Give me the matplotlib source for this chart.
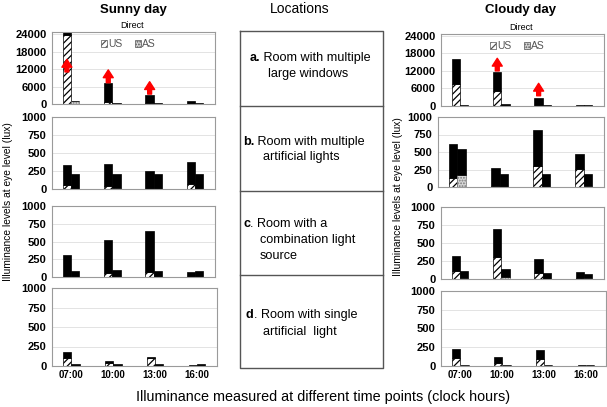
import matplotlib
matplotlib.use('Agg')
import matplotlib.pyplot as plt
from matplotlib.patches import Patch
import numpy as np

plt.rcParams['font.family'] = ['Liberation Sans', 'DejaVu Sans']
plt.rcParams['hatch.linewidth'] = 0.9

times = ['07:00', '10:00', '13:00', '16:00']

# ---- Sunny day (US = hatched lower part + black upper, AS = dotted lower + black upper)
sunny_a_us_total = [26000, 7200, 3000, 1000]
sunny_a_us_low = [23800, 700, 200, 0]
sunny_a_as_total = [1000, 500, 400, 200]
sunny_a_as_low = [1000, 0, 0, 0]

sunny_b_us_total = [335, 345, 245, 375]
sunny_b_us_low = [60, 45, 0, 70]
sunny_b_as_total = [205, 215, 210, 205]
sunny_b_as_low = [0, 10, 0, 0]

sunny_c_us_total = [313, 516, 645, 65]
sunny_c_us_low = [0, 50, 70, 0]
sunny_c_as_total = [83, 101, 88, 88]
sunny_c_as_low = [0, 0, 0, 0]

sunny_d_us_total = [184, 60, 115, 10]
sunny_d_us_low = [105, 35, 105, 0]
sunny_d_as_total = [20, 20, 20, 20]
sunny_d_as_low = [0, 0, 0, 0]

# ---- Cloudy day
cloudy_a_us_total = [16000, 11500, 2800, 500]
cloudy_a_us_low = [7500, 5000, 0, 0]
cloudy_a_as_total = [200, 700, 200, 300]
cloudy_a_as_low = [0, 0, 0, 0]

cloudy_b_us_total = [610, 270, 817, 470]
cloudy_b_us_low = [135, 20, 305, 260]
cloudy_b_as_total = [548, 190, 185, 190]
cloudy_b_as_low = [170, 0, 0, 20]

cloudy_c_us_total = [324, 700, 275, 95]
cloudy_c_us_low = [116, 300, 90, 20]
cloudy_c_as_total = [115, 135, 85, 75]
cloudy_c_as_low = [20, 25, 0, 15]

cloudy_d_us_total = [226, 115, 217, 10]
cloudy_d_us_low = [106, 40, 90, 0]
cloudy_d_as_total = [20, 20, 20, 20]
cloudy_d_as_low = [20, 20, 20, 20]

# red arrows (time index, base value, tip value)
sunny_arrow_idx = [0, 1, 2]
sunny_arrow_base = [11000, 7300, 3400]
sunny_arrow_tip = [15300, 11700, 7650]
cloudy_arrow_idx = [1, 2]
cloudy_arrow_base = [12000, 3500]
cloudy_arrow_tip = [16300, 7750]

ticks_a = [0, 6000, 12000, 18000, 24000]
ticks_bcd = [0, 250, 500, 750, 1000]

locations = [
    ('a.', ['Room with multiple', 'large windows']),
    ('b.', ['Room with multiple', 'artificial lights']),
    ('c', ['. Room with a', 'combination light', 'source']),
    ('d', ['. Room with single', 'artificial  light']),
]

W, H = 607, 407
fig = plt.figure(figsize=(W / 100, H / 100), dpi=100)


def px_axes(x0, y0, x1, y1):
    return fig.add_axes([x0 / W, 1 - y1 / H, (x1 - x0) / W, (y1 - y0) / H])


def draw(ax, us_total, us_low, as_total, as_low, ymax, yticks, show_x):
    x = np.arange(len(times))
    us_total = np.array(us_total, float)
    us_low = np.array(us_low, float)
    as_total = np.array(as_total, float)
    as_low = np.array(as_low, float)
    bw = 0.2
    ax.bar(x - bw / 2, us_low, bw, facecolor='white', edgecolor='black',
           hatch='/////', lw=0.5, zorder=2)
    ax.bar(x - bw / 2, us_total - us_low, bw, bottom=us_low, facecolor='black',
           edgecolor='black', lw=0.5, zorder=2)
    ax.bar(x + bw / 2, as_low, bw, facecolor='#d8d8d8', edgecolor='#7a7a7a',
           hatch='......', lw=0.5, zorder=2)
    ax.bar(x + bw / 2, as_total - as_low, bw, bottom=as_low, facecolor='black',
           edgecolor='black', lw=0.5, zorder=2)
    ax.set_xlim(-0.46, 3.48)
    ax.set_ylim(0, ymax)
    ax.set_yticks(yticks)
    ax.set_yticklabels([str(t) for t in yticks], fontsize=8, fontweight='bold')
    ax.yaxis.grid(True, color='#dedede', lw=0.6)
    ax.set_axisbelow(True)
    ax.tick_params(axis='y', length=0, pad=4)
    ax.set_xticks(x)
    if show_x:
        ax.set_xticklabels(times, fontsize=7, fontweight='bold')
        ax.tick_params(axis='x', length=0, pad=3)
    else:
        ax.set_xticklabels([])
        ax.tick_params(axis='x', length=0)
    for s in ax.spines.values():
        s.set_color('#9a9a9a')
        s.set_linewidth(0.8)


def arrows(ax, idx, base, tip):
    for i, b, t in zip(idx, base, tip):
        ax.annotate('', xy=(i - 0.1, t), xytext=(i - 0.1, b),
                    arrowprops=dict(arrowstyle='simple,head_width=0.9,head_length=0.7,tail_width=0.35',
                                    color='red', mutation_scale=8, shrinkA=0, shrinkB=0),
                    zorder=5)


def legend(ax):
    h = [Patch(facecolor='white', edgecolor='#555555', hatch='/////', lw=0.5, label='US'),
         Patch(facecolor='#d8d8d8', edgecolor='#555555', hatch='......', lw=0.5, label='AS')]
    ax.legend(handles=h, loc='upper center', bbox_to_anchor=(0.47, 0.96), ncol=2, frameon=False,
              fontsize=7.5, handlelength=0.6, handleheight=0.6, handletextpad=0.1,
              columnspacing=1.2, labelcolor='#555555', borderaxespad=0)


# left column (sunny)
L = (52, 215)
ax = px_axes(L[0], 32, L[1], 104)
draw(ax, sunny_a_us_total, sunny_a_us_low, sunny_a_as_total, sunny_a_as_low, 24700, ticks_a, False)
arrows(ax, sunny_arrow_idx, sunny_arrow_base, sunny_arrow_tip)
legend(ax)
ax = px_axes(L[0], 117, L[1], 189)
draw(ax, sunny_b_us_total, sunny_b_us_low, sunny_b_as_total, sunny_b_as_low, 1000, ticks_bcd, False)
ax = px_axes(L[0], 206, L[1], 277)
draw(ax, sunny_c_us_total, sunny_c_us_low, sunny_c_as_total, sunny_c_as_low, 1000, ticks_bcd, False)
ax = px_axes(L[0], 288, L[1] + 2, 366)
draw(ax, sunny_d_us_total, sunny_d_us_low, sunny_d_as_total, sunny_d_as_low, 1000, ticks_bcd, True)

# right column (cloudy)
R = (441, 604)
ax = px_axes(R[0], 34, R[1], 106)
draw(ax, cloudy_a_us_total, cloudy_a_us_low, cloudy_a_as_total, cloudy_a_as_low, 24600, ticks_a, False)
arrows(ax, cloudy_arrow_idx, cloudy_arrow_base, cloudy_arrow_tip)
legend(ax)
ax = px_axes(R[0] - 3, 117, R[1], 187)
draw(ax, cloudy_b_us_total, cloudy_b_us_low, cloudy_b_as_total, cloudy_b_as_low, 1000, ticks_bcd, False)
ax = px_axes(R[0], 207, R[1], 279)
draw(ax, cloudy_c_us_total, cloudy_c_us_low, cloudy_c_as_total, cloudy_c_as_low, 1000, ticks_bcd, False)
ax = px_axes(R[0], 291, R[1] + 2, 366)
draw(ax, cloudy_d_us_total, cloudy_d_us_low, cloudy_d_as_total, cloudy_d_as_low, 1000, ticks_bcd, True)

# overlay in pixel coordinates for titles, table and labels
ov = fig.add_axes([0, 0, 1, 1], zorder=-1)
ov.set_xlim(0, W)
ov.set_ylim(H, 0)
ov.axis('off')

ov.text(133, 10, 'Sunny day', ha='center', va='center', fontsize=9.5, fontweight='bold')
ov.text(132, 25, 'Direct', ha='center', va='center', fontsize=6.5)
ov.text(300, 9, 'Locations', ha='center', va='center', fontsize=10)
ov.text(521, 10, 'Cloudy day', ha='center', va='center', fontsize=9.5, fontweight='bold')
ov.text(521, 27, 'Direct', ha='center', va='center', fontsize=6.5)

ov.text(8, 202, 'Illuminance levels at eye level (lux)', rotation=90, ha='center',
        va='center', fontsize=7.4)
ov.text(398, 197, 'Illuminance levels at eye level (lux)', rotation=90, ha='center',
        va='center', fontsize=7.4)
ov.text(323, 397, 'Illuminance measured at different time points (clock hours)', ha='center',
        va='center', fontsize=10.4)

# table
tx0, tx1 = 240, 383
rows_y = [31, 106, 191, 275, 368]
tc = '#555555'
ov.plot([tx0, tx1, tx1, tx0, tx0], [rows_y[0], rows_y[0], rows_y[-1], rows_y[-1], rows_y[0]],
        color=tc, lw=1.0)
for yy in rows_y[1:-1]:
    ov.plot([tx0, tx1], [yy, yy], color=tc, lw=1.0)

starts = [250, 243, 243, 246]
line_y = [[58, 74], [142, 157], [224, 240, 256], [315, 332]]
indent = [18, 20, 17, 17]
fs = 9.1
fig.canvas.draw()
rend = fig.canvas.get_renderer()
for (letter, lines), x0, ys, ind in zip(locations, starts, line_y, indent):
    t = ov.text(x0, ys[0], letter, ha='left', va='center', fontsize=fs, fontweight='bold')
    bb = t.get_window_extent(renderer=rend)
    wpx = bb.width * W / fig.bbox.width
    first = lines[0] if lines[0].startswith('.') else ' ' + lines[0]
    ov.text(x0 + wpx, ys[0], first, ha='left', va='center', fontsize=fs)
    for ln, yy in zip(lines[1:], ys[1:]):
        ov.text(x0 + ind, yy, ln, ha='left', va='center', fontsize=fs)

fig.savefig('out.png', dpi=100)
